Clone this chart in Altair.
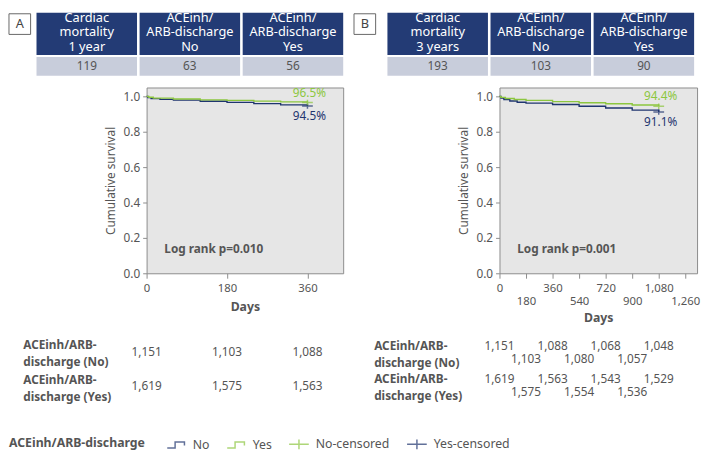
import altair as alt
import pandas as pd

# ---------------- data ----------------
groups = ["No", "Yes", "No-censored", "Yes-censored"]

hdr_a_titles = ["Cardiac\nmortality\n1 year", "ACEinh/\nARB-discharge\nNo", "ACEinh/\nARB-discharge\nYes"]
hdr_a_counts = [119, 63, 56]
hdr_b_titles = ["Cardiac\nmortality\n3 years", "ACEinh/\nARB-discharge\nNo", "ACEinh/\nARB-discharge\nYes"]
hdr_b_counts = [193, 103, 90]

a_no_days = [0, 3, 10, 30, 60, 120, 180, 240, 300, 360]
a_no_surv = [1.0, 0.993, 0.987, 0.983, 0.979, 0.972, 0.966, 0.959, 0.952, 0.945]
a_yes_days = [0, 5, 15, 60, 120, 180, 240, 300, 360]
a_yes_surv = [1.0, 0.995, 0.99, 0.985, 0.98, 0.977, 0.973, 0.969, 0.965]

b_no_days = [0, 10, 30, 70, 120, 180, 360, 540, 720, 900, 1080]
b_no_surv = [1.0, 0.99, 0.982, 0.974, 0.967, 0.962, 0.954, 0.944, 0.934, 0.922, 0.911]
b_yes_days = [0, 10, 40, 100, 180, 360, 540, 720, 900, 1080]
b_yes_surv = [1.0, 0.994, 0.988, 0.982, 0.977, 0.97, 0.964, 0.958, 0.951, 0.944]

risk_a_days = [0, 180, 360]
risk_a_no = [1151, 1103, 1088]
risk_a_yes = [1619, 1575, 1563]
risk_b_days = [0, 180, 360, 540, 720, 900, 1080]
risk_b_no = [1151, 1103, 1088, 1080, 1068, 1057, 1048]
risk_b_yes = [1619, 1575, 1563, 1554, 1543, 1536, 1529]

ticks_a = [0, 180, 360]
ticks_b = [0, 180, 360, 540, 720, 900, 1080, 1260]
surv_ticks = [0, 0.2, 0.4, 0.6, 0.8, 1.0]

logrank_a = "Log rank p=0.010"
logrank_b = "Log rank p=0.001"

# ---------------- style ----------------
NAVY = "#1f356f"
GREEN = "#8cc63f"
HDR_DARK = "#233b75"
HDR_LIGHT = "#c8cddb"
TXT = "#555555"
PLOT_BG = "#e6e6e6"
PLOT_BORDER = "#8c8c8c"
FONT = "Noto Sans"

STEP = "M-0.9,0.3H-0.1V-0.3H0.85V0.05"
CROSS = "M-1,0H1M0,-0.5V0.5"

color_scale = alt.Scale(domain=groups, range=[NAVY, GREEN, GREEN, NAVY])
shape_scale = alt.Scale(domain=groups, range=[STEP, STEP, CROSS, CROSS])
legend = alt.Legend(
    title="ACEinh/ARB-discharge", orient="none", legendX=-140, legendY=352,
    direction="horizontal", titleOrient="left", titleFontSize=12.5,
    titleFontWeight="bold", titleColor=TXT, titlePadding=20, titleBaseline="middle",
    labelFontSize=12.5, labelColor=TXT, symbolSize=400, symbolStrokeWidth=1.5,
    columnPadding=14, labelOffset=6,
)


def panel(letter, titles, counts, no_days, no_surv, yes_days, yes_surv,
          r_days, r_no, r_yes, xmax, ticks, width, logrank, staggered,
          label_pad, box_x, hdr_left, hdr_right, title_pad):
    xs = alt.Scale(domain=[0, xmax], nice=False, zero=False)
    ys = alt.Scale(domain=[0, 1.05], nice=False)
    label_expr = ("datum.value % 360 == 180 ? ['', datum.label] : datum.label"
                  if staggered else "datum.label")
    xaxis = alt.Axis(orient="bottom", values=ticks, format=",d", labelExpr=label_expr,
                     labelFlush=False, labelOverlap=False, labelFontSize=11.5,
                     labelColor=TXT, labelPadding=5, labelLineHeight=12.5,
                     tickSize=5, tickColor=PLOT_BORDER, domain=False, grid=False,
                     title="Days", titleFontSize=12.5, titleFontWeight="bold",
                     titleColor=TXT, titlePadding=title_pad)
    yaxis = alt.Axis(orient="left", values=surv_ticks, format=".1f", labelFontSize=12,
                     labelColor=TXT, labelPadding=3, tickSize=4, tickColor=PLOT_BORDER,
                     domain=False, grid=False, title="Cumulative survival",
                     titleFontSize=12, titleFontWeight="normal", titleColor=TXT,
                     titlePadding=6)
    x_enc = alt.X("day:Q", scale=xs, axis=xaxis)
    y_enc = alt.Y("surv:Q", scale=ys, axis=yaxis)
    color_enc = alt.Color("grp:N", scale=color_scale, legend=legend)

    km_df = pd.concat([
        pd.DataFrame({"day": no_days, "surv": no_surv, "grp": "No"}),
        pd.DataFrame({"day": yes_days, "surv": yes_surv, "grp": "Yes"}),
    ])
    cens_df = pd.DataFrame({
        "day": [no_days[-1], yes_days[-1]],
        "surv": [no_surv[-1], yes_surv[-1]],
        "grp": ["Yes-censored", "No-censored"],
    })
    hi_df = pd.DataFrame({"day": [yes_days[-1]], "surv": [yes_surv[-1]],
                          "t": [f"{yes_surv[-1] * 100:.1f}%"]})
    lo_df = pd.DataFrame({"day": [no_days[-1]], "surv": [no_surv[-1]],
                          "t": [f"{no_surv[-1] * 100:.1f}%"]})

    lines = alt.Chart(km_df).mark_line(interpolate="step-after", strokeWidth=1.4).encode(
        x=x_enc, y=y_enc, color=color_enc)
    pts = alt.Chart(cens_df).mark_point(filled=False, strokeWidth=1.5, size=120).encode(
        x=x_enc, y=y_enc, color=color_enc,
        shape=alt.Shape("grp:N", scale=shape_scale, legend=legend))
    lbl_hi = alt.Chart(hi_df).mark_text(fontSize=12, color=GREEN, dy=-10, dx=2).encode(
        x=x_enc, y=y_enc, text="t:N")
    lbl_lo = alt.Chart(lo_df).mark_text(fontSize=12, color=NAVY, dy=10, dx=2).encode(
        x=x_enc, y=y_enc, text="t:N")
    lr = alt.Chart(pd.DataFrame({"t": [logrank]})).mark_text(
        align="left", baseline="middle", fontSize=12, fontWeight="bold", color=TXT
    ).encode(x=alt.value(18), y=alt.value(164), text="t:N")
    km_layer = alt.layer(lines, pts, lbl_hi, lbl_lo, lr)

    risk_df = pd.concat([
        pd.DataFrame({"day": r_days, "n": r_no, "row": "No"}),
        pd.DataFrame({"day": r_days, "n": r_yes, "row": "Yes"}),
    ])
    rng = [269.5, 303.5] if staggered else [269, 304]
    riskaxis = alt.Axis(orient="left", title=None,
                        labelExpr="['ACEinh/ARB-', 'discharge (' + datum.label + ')']",
                        labelAlign="left", labelBaseline="middle", labelPadding=label_pad,
                        labelOffset=-7,
                        labelFontSize=12, labelFontWeight="bold", labelColor=TXT,
                        labelLineHeight=17, ticks=False, tickSize=0, domain=False,
                        grid=False, labelLimit=200)
    r_y = alt.Y("row:N", scale=alt.Scale(type="point", domain=["No", "Yes"], range=rng,
                                         padding=0), axis=riskaxis)
    r_text = alt.Text("n:Q", format=",")
    if staggered:
        risk = alt.layer(
            alt.Chart(risk_df).transform_filter("datum.day % 360 == 0").mark_text(
                fontSize=12, color=TXT, dy=-6.5).encode(x=x_enc, y=r_y, text=r_text),
            alt.Chart(risk_df).transform_filter("datum.day % 360 == 180").mark_text(
                fontSize=12, color=TXT, dy=6.5).encode(x=x_enc, y=r_y, text=r_text),
        )
    else:
        risk = alt.Chart(risk_df).mark_text(fontSize=12, color=TXT).encode(
            x=x_enc, y=r_y, text=r_text)

    data_layer = alt.layer(km_layer, risk).resolve_scale(y="independent")

    split = [t.split("\n") for t in titles]
    hdr_df = pd.DataFrame({"col": [0, 1, 2], "l1": [s[0] for s in split],
                           "l2": [s[1] for s in split], "l3": [s[2] for s in split],
                           "count": counts})
    x_h = alt.X("col:O", scale=alt.Scale(domain=[0, 1, 2], range=[hdr_left, hdr_right],
                                         paddingInner=0.025, paddingOuter=0), axis=None)
    hdr_dark = alt.Chart(hdr_df).mark_rect(color=HDR_DARK).encode(
        x=x_h, y=alt.value(-76), y2=alt.value(-33))
    hdr_lines = [
        alt.Chart(hdr_df).mark_text(color="white", fontSize=13, baseline="middle").encode(
            x=x_h, y=alt.value(yv), text=f"{fld}:N")
        for fld, yv in (("l1", -70.5), ("l2", -56), ("l3", -41.5))
    ]
    cnt_rect = alt.Chart(hdr_df).mark_rect(color=HDR_LIGHT).encode(
        x=x_h, y=alt.value(-31), y2=alt.value(-12))
    cnt_text = alt.Chart(hdr_df).mark_text(color=TXT, fontSize=12, baseline="middle").encode(
        x=x_h, y=alt.value(-21.5), text="count:N")
    box_df = pd.DataFrame({"t": [letter]})
    box_rect = alt.Chart(box_df).mark_rect(fill="white", stroke="#666666", strokeWidth=1).encode(
        x=alt.value(box_x), x2=alt.value(box_x + 22), y=alt.value(-75), y2=alt.value(-54))
    box_text = alt.Chart(box_df).mark_text(fontSize=13, color="#444444", baseline="middle").encode(
        x=alt.value(box_x + 11), y=alt.value(-64.5), text="t:N")
    header_layer = alt.layer(box_rect, box_text, hdr_dark, *hdr_lines, cnt_rect, cnt_text)

    return alt.layer(data_layer, header_layer).resolve_scale(
        x="independent", y="independent"
    ).properties(width=width, height=189,
                 view=alt.ViewBackground(fill=PLOT_BG, stroke=PLOT_BORDER, strokeWidth=1))


panel_a = panel("A", hdr_a_titles, hdr_a_counts, a_no_days, a_no_surv, a_yes_days, a_yes_surv,
                risk_a_days, risk_a_no, risk_a_yes, 440, ticks_a, 200, logrank_a, False,
                126, -140, -112, 200, 6)
panel_b = panel("B", hdr_b_titles, hdr_b_counts, b_no_days, b_no_surv, b_yes_days, b_yes_surv,
                risk_b_days, risk_b_no, risk_b_yes, 1340, ticks_b, 201, logrank_b, True,
                128, -148, -114, 198, 5)

chart = alt.hconcat(panel_a, panel_b, spacing=9).properties(padding=0).configure(
    font=FONT).configure_view(stroke="transparent")

chart.save("out.html", embed_options={"renderer": "svg", "actions": False})
